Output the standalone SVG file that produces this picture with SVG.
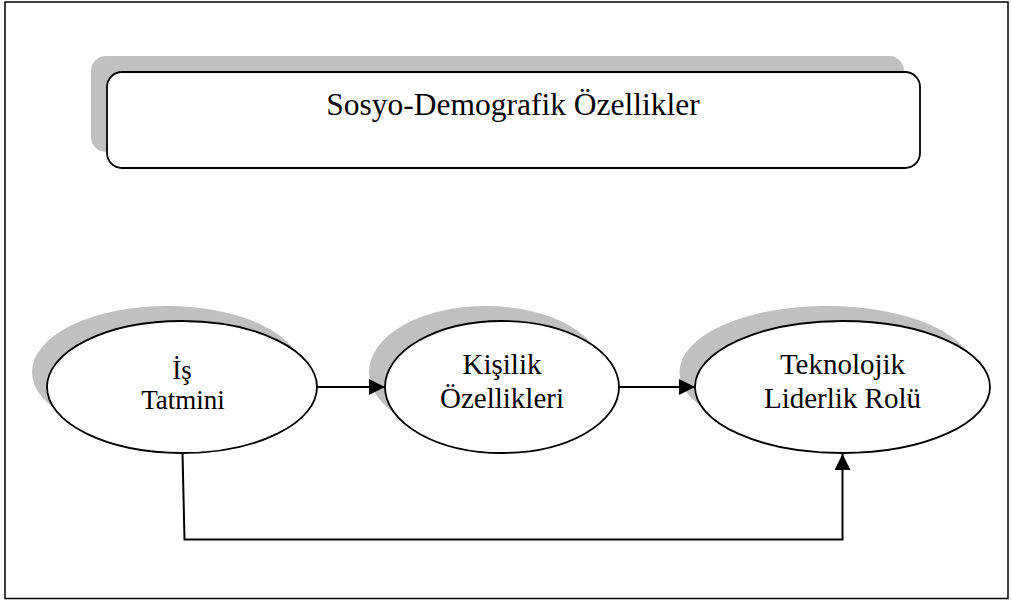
<svg xmlns="http://www.w3.org/2000/svg" width="1011" height="601" viewBox="0 0 1011 601">
  <style>
    .frame { fill: #ffffff; stroke: #000000; stroke-width: 1.5; }
    .shadow { fill: #c0c0c0; stroke: none; }
    .shape { fill: #ffffff; stroke: #000000; stroke-width: 1.8; }
    .label { font-family: "Liberation Serif", "Times New Roman", serif; fill: #000000; text-anchor: middle; }
    .edge { fill: none; stroke: #000000; stroke-width: 2; }
  </style>
  <defs>
    <marker id="arrow" markerWidth="17" markerHeight="16" refX="16" refY="8" orient="auto" markerUnits="userSpaceOnUse" viewBox="0 0 17 16">
      <path d="M0,0 L16,8 L0,16 Z" fill="#000000"/>
    </marker>
  </defs>

  <!-- page frame -->
  <rect class="frame" x="5" y="2" width="1003" height="596.5"/>

  <!-- header box -->
  <g id="sosyo-demografik">
    <rect class="shadow" x="91" y="56" width="813" height="96" rx="15" ry="15"/>
    <rect class="shape" x="107" y="72" width="813" height="96" rx="15" ry="15"/>
    <text class="label" x="513" y="115" font-size="31.5">Sosyo-Demografik Özellikler</text>
  </g>

  <g id="is-tatmini">
    <ellipse class="shadow" cx="167" cy="372" rx="135" ry="66"/>
    <ellipse class="shape" cx="182" cy="387" rx="135" ry="66"/>
    <text class="label" x="182" y="379" font-size="27">İş</text>
    <text class="label" x="183" y="409" font-size="27">Tatmini</text>
  </g>

  <g id="kisilik-ozellikleri">
    <ellipse class="shadow" cx="486" cy="372" rx="117" ry="66"/>
    <ellipse class="shape" cx="502" cy="387" rx="117" ry="66"/>
    <text class="label" x="502" y="374" font-size="29">Kişilik</text>
    <text class="label" x="502" y="408" font-size="29">Özellikleri</text>
  </g>

  <g id="teknolojik-liderlik">
    <ellipse class="shadow" cx="827" cy="372" rx="147.5" ry="66"/>
    <ellipse class="shape" cx="842.5" cy="387" rx="147.5" ry="66"/>
    <text class="label" x="842.5" y="374" font-size="29">Teknolojik</text>
    <text class="label" x="842.5" y="408" font-size="29">Liderlik Rolü</text>
  </g>

  <!-- connectors, drawn above the node shadows -->
  <g id="connectors">
    <line class="edge" x1="317" y1="387" x2="385" y2="387" marker-end="url(#arrow)"/>
    <line class="edge" x1="619" y1="387" x2="695" y2="387" marker-end="url(#arrow)"/>
    <polyline class="edge" points="182.5,453 184.5,539.5 842.5,539.5 842.5,454" marker-end="url(#arrow)"/>
  </g>
</svg>
